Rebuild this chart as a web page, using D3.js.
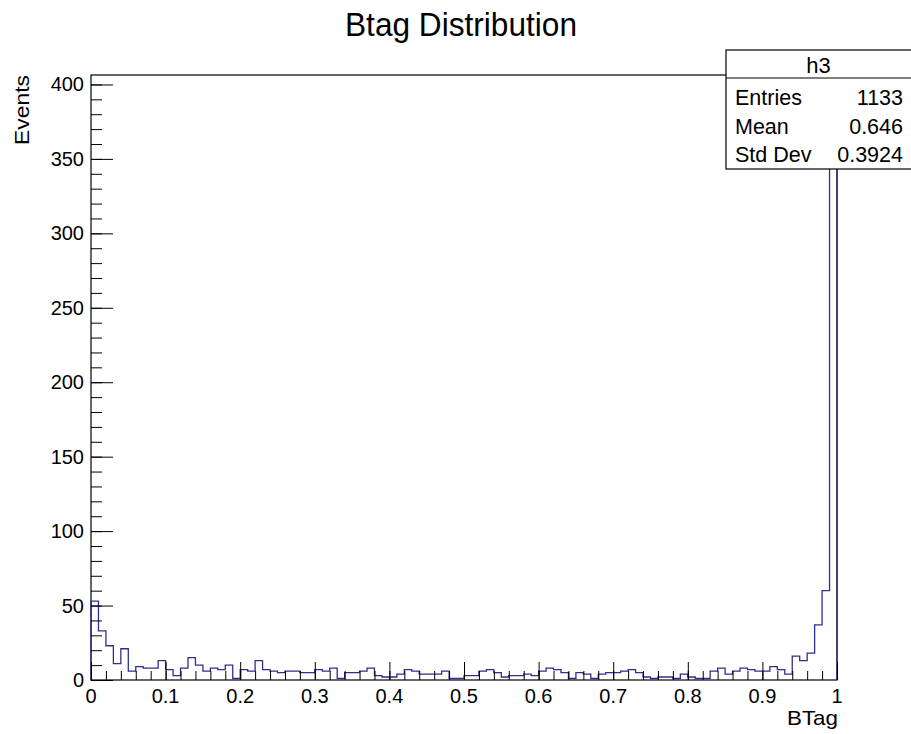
<!DOCTYPE html>
<html>
<head>
<meta charset="utf-8">
<script src="https://cdn.jsdelivr.net/npm/d3@7"></script>
<style>
  html, body { margin: 0; padding: 0; background: #ffffff; }
  svg { display: block; font-family: "Liberation Sans", Arial, Helvetica, sans-serif; }
</style>
</head>
<body>
<svg id="chart" width="911" height="734"></svg>
<script>
// ---- data ----
const title = "Btag Distribution";
const xTitle = "BTag";
const yTitle = "Events";
const histName = "h3";
const statLabels = ["Entries", "Mean", "Std Dev"];
const statValues = ["1133", "0.646", "0.3924"];
const binLow = 0, binHigh = 1;
const binCounts = [
  53, 33, 23, 11, 21, 6, 9, 8, 8, 13,
  7, 3, 8, 15, 10, 6, 8, 7, 10, 1,
  7, 6, 13, 7, 6, 5, 6, 6, 5, 5,
  7, 6, 8, 1, 5, 5, 6, 8, 3, 2,
  2, 4, 7, 6, 4, 4, 4, 6, 1, 1,
  3, 3, 6, 7, 5, 2, 3, 3, 4, 3,
  6, 8, 7, 5, 1, 5, 4, 1, 4, 5,
  5, 6, 7, 5, 2, 1, 2, 2, 1, 4,
  2, 1, 1, 6, 8, 4, 6, 8, 7, 6,
  6, 9, 7, 4, 16, 13, 18, 37, 60, 387
];
const xTickValues = [0, 0.1, 0.2, 0.3, 0.4, 0.5, 0.6, 0.7, 0.8, 0.9, 1];
const xTickLabels = ["0", "0.1", "0.2", "0.3", "0.4", "0.5", "0.6", "0.7", "0.8", "0.9", "1"];
const yTickValues = [0, 50, 100, 150, 200, 250, 300, 350, 400];

// ---- layout ----
const frame = { left: 91, right: 837, top: 75, bottom: 680 };
const svg = d3.select("#chart");
const nb = binCounts.length;
const bw = (binHigh - binLow) / nb;
const yMax = 1.05 * d3.max(binCounts);

const x = d3.scaleLinear().domain([binLow, binHigh]).range([frame.left, frame.right]);
const y = d3.scaleLinear().domain([0, yMax]).range([frame.bottom, frame.top]);

// frame
svg.append("rect")
  .attr("x", frame.left).attr("y", frame.top)
  .attr("width", frame.right - frame.left).attr("height", frame.bottom - frame.top)
  .attr("fill", "none").attr("stroke", "#000").attr("stroke-width", 1.2);

// histogram outline
const p = d3.path();
p.moveTo(x(binLow), y(0));
binCounts.forEach((c, i) => {
  p.lineTo(x(binLow + i * bw), y(c));
  p.lineTo(x(binLow + (i + 1) * bw), y(c));
});
p.lineTo(x(binHigh), y(0));
svg.append("path").attr("d", p.toString())
  .attr("fill", "none").attr("stroke", "#2f2f8c").attr("stroke-width", 1.3);

// x-axis ticks (pointing up into frame)
const xMinor = d3.range(0, 51).map(i => i * 0.02);
svg.append("g").attr("transform", `translate(0,${frame.bottom})`)
  .call(d3.axisTop(x).tickValues(xMinor).tickSize(9).tickFormat("").tickSizeOuter(0))
  .call(g => g.select(".domain").remove())
  .call(g => g.selectAll("line").attr("stroke", "#000"));
svg.append("g").attr("transform", `translate(0,${frame.bottom})`)
  .call(d3.axisTop(x).tickValues(xTickValues).tickSize(18).tickFormat("").tickSizeOuter(0))
  .call(g => g.select(".domain").remove())
  .call(g => g.selectAll("line").attr("stroke", "#000"));

// x tick labels
svg.append("g").selectAll("text").data(xTickValues).join("text")
  .attr("x", d => x(d)).attr("y", 703)
  .attr("text-anchor", "middle").attr("font-size", 20).attr("fill", "#000")
  .text((d, i) => xTickLabels[i]);

// y-axis ticks (pointing right into frame)
const yMinor = d3.range(0, 41).map(i => i * 10);
svg.append("g").attr("transform", `translate(${frame.left},0)`)
  .call(d3.axisLeft(y).tickValues(yMinor).tickSize(-11).tickFormat("").tickSizeOuter(0))
  .call(g => g.select(".domain").remove())
  .call(g => g.selectAll("line").attr("stroke", "#000"));
svg.append("g").attr("transform", `translate(${frame.left},0)`)
  .call(d3.axisLeft(y).tickValues(yTickValues).tickSize(-22).tickFormat("").tickSizeOuter(0))
  .call(g => g.select(".domain").remove())
  .call(g => g.selectAll("line").attr("stroke", "#000"));

// y tick labels
svg.append("g").selectAll("text").data(yTickValues).join("text")
  .attr("x", 84).attr("y", d => y(d) + 7)
  .attr("text-anchor", "end").attr("font-size", 20).attr("fill", "#000")
  .text(d => d);

// axis titles
svg.append("text").attr("x", 838).attr("y", 725)
  .attr("text-anchor", "end").attr("font-size", 21).attr("fill", "#000")
  .attr("textLength", 51).attr("lengthAdjust", "spacingAndGlyphs").text(xTitle);
svg.append("text").attr("transform", "translate(29,145) rotate(-90)")
  .attr("text-anchor", "start").attr("font-size", 21).attr("fill", "#000")
  .attr("textLength", 70).attr("lengthAdjust", "spacingAndGlyphs").text(yTitle);

// title
svg.append("text").attr("x", 461).attr("y", 36)
  .attr("text-anchor", "middle").attr("font-size", 33).attr("fill", "#000")
  .attr("textLength", 232).attr("lengthAdjust", "spacingAndGlyphs")
  .text(title);

// stats box
const sb = { left: 726, right: 912, top: 50, head: 78, bottom: 169 };
svg.append("rect").attr("x", sb.left).attr("y", sb.top)
  .attr("width", sb.right - sb.left).attr("height", sb.bottom - sb.top)
  .attr("fill", "#fff").attr("stroke", "#000").attr("stroke-width", 1.2);
svg.append("line").attr("x1", sb.left).attr("x2", sb.right)
  .attr("y1", sb.head).attr("y2", sb.head).attr("stroke", "#000").attr("stroke-width", 1.2);
svg.append("text").attr("x", (sb.left + 911) / 2).attr("y", 73)
  .attr("text-anchor", "middle").attr("font-size", 22).attr("fill", "#000").text(histName);
const rowY = [105, 133.5, 162];
statLabels.forEach((lab, i) => {
  svg.append("text").attr("x", 735).attr("y", rowY[i])
    .attr("font-size", 21.5).attr("fill", "#000").text(lab);
  svg.append("text").attr("x", 903).attr("y", rowY[i])
    .attr("text-anchor", "end").attr("font-size", 21.5).attr("fill", "#000").text(statValues[i]);
});
</script>
</body>
</html>
